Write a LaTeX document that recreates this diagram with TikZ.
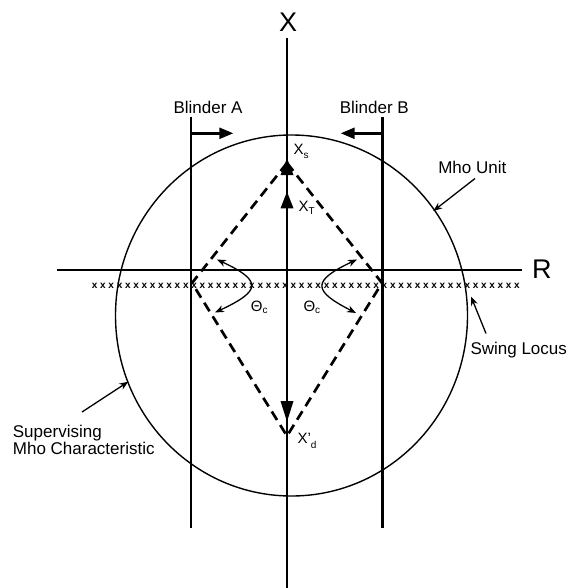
\documentclass[tikz,border=0pt]{standalone}
\usepackage{fontspec}
\setmainfont{Liberation Sans}
\usetikzlibrary{arrows.meta}
\newcommand{\sbs}[2][3pt]{\raisebox{-#1}{\fontsize{10}{10}\selectfont #2}}
\begin{document}
\begin{tikzpicture}[x=1pt,y=-1pt,
  axisline/.style={line width=2.9pt},
  blinderline/.style={line width=2.5pt},
  thinline/.style={line width=1.4pt},
  diamondline/.style={line width=2.7pt, dash pattern=on 10pt off 6pt, line join=miter},
  lbl/.style={font=\fontsize{17}{17}\selectfont, inner sep=0pt},
  biglbl/.style={font=\fontsize{27}{27}\selectfont, inner sep=0pt},
  sublbl/.style={font=\fontsize{15}{15}\selectfont, inner sep=0pt},
  annarrow/.style={line width=1.3pt, -{Stealth[length=9pt,width=7pt]}},
  anglearrow/.style={line width=1.3pt, {Stealth[length=9pt,width=7pt]}-{Stealth[length=9pt,width=7pt]}},
  blinderarrow/.style={line width=2.5pt, -{Triangle[length=14pt,width=11pt]}},
  xmark/.style={font=\fontsize{10}{10}\selectfont\bfseries, inner sep=0pt}
]
\useasboundingbox (0,0) rectangle (571,588);

% axes
\coordinate (xtop) at (287,38.5);
\coordinate (xbot) at (287,588);
\coordinate (rleft) at (57,270);
\coordinate (rright) at (522,270);
\draw[thinline] (rleft) -- (rright);
\draw[axisline] (xtop) -- (xbot);
\node[biglbl, anchor=base] (xlabel) at (288,31.7) {X};
\node[biglbl, anchor=base west] (rlabel) at (532,278.5) {R};

% swing locus crosses
\foreach \i in {0,...,51}
  \node[xmark] (cx\i) at ({94.7+8.28*\i},285.5) {x};

% mho circle
\draw[thinline] (291.5,315.5) ellipse [x radius=176, y radius=180.5];

% blinders
\coordinate (ba1) at (191,116.7);
\coordinate (ba2) at (191,527.7);
\coordinate (bb1) at (382.3,116.7);
\coordinate (bb2) at (382.3,527.7);
\draw[blinderline] (ba1) -- (ba2);
\draw[blinderline] (bb1) -- (bb2);
\coordinate (baa) at (190,133.3);
\coordinate (bat) at (233.3,133.3);
\coordinate (bba) at (383.3,133.3);
\coordinate (bbt) at (340.7,133.3);
\draw[blinderarrow] (baa) -- (bat);
\draw[blinderarrow] (bba) -- (bbt);
\node[lbl, anchor=base] (blA) at (208,113.3) {Blinder A};
\node[lbl, anchor=base] (blB) at (374.3,113.3) {Blinder B};

% diamond
\coordinate (dtop) at (287,163);
\coordinate (dright) at (382,283);
\coordinate (dbot) at (287,436);
\coordinate (dleft) at (192,283);
\draw[diamondline] (dtop) -- (dright) -- (dbot) -- (dleft) -- cycle;

% arrowheads on X axis
\fill (287,158.3) -- (280.5,175) -- (293.5,175) -- cycle;
\fill (287,191.7) -- (280.5,208.3) -- (293.5,208.3) -- cycle;
\fill (287,421.7) -- (280.5,401) -- (293.5,401) -- cycle;
\node[sublbl, anchor=base west] (xs) at (293.3,155) {X\sbs{s}};
\node[sublbl, anchor=base west] (xt) at (298.5,211) {X\sbs{T}};
\node[sublbl, anchor=base west] (xd) at (297.3,443.3) {X’\sbs[5pt]{d}};

% angle arrows
\coordinate (la1) at (217,259.5);
\coordinate (la2) at (215,312.5);
\coordinate (ra1) at (357,259.5);
\coordinate (ra2) at (356,313);
\draw[anglearrow] (la1) .. controls (263,281) and (261,291) .. (la2);
\draw[anglearrow] (ra1) .. controls (311,281) and (313,291) .. (ra2);
\node[font=\fontsize{15}{15}\selectfont, inner sep=0pt, anchor=base west] (thl) at (250.7,311.7) {Θ\sbs[2pt]{c}};
\node[font=\fontsize{15}{15}\selectfont, inner sep=0pt, anchor=base west] (thr) at (303.3,311.7) {Θ\sbs[2pt]{c}};

% annotations
\node[lbl, anchor=base] (mho) at (472.3,173.3) {Mho Unit};
\coordinate (mhoA) at (475,178.5);
\coordinate (mhoB) at (433.3,211);
\draw[annarrow] (mhoA) -- (mhoB);

\node[lbl, anchor=base] (swing) at (518.7,354.5) {Swing Locus};
\coordinate (swA) at (486,333.5);
\coordinate (swB) at (471,296.5);
\draw[annarrow] (swA) -- (swB);

\node[lbl, anchor=north west, align=left] (sup) at (12.7,424.5) {Supervising\\Mho Characteristic};
\coordinate (supA) at (82,412);
\coordinate (supB) at (128.3,381.7);
\draw[annarrow] (supA) -- (supB);
\end{tikzpicture}
\end{document}
